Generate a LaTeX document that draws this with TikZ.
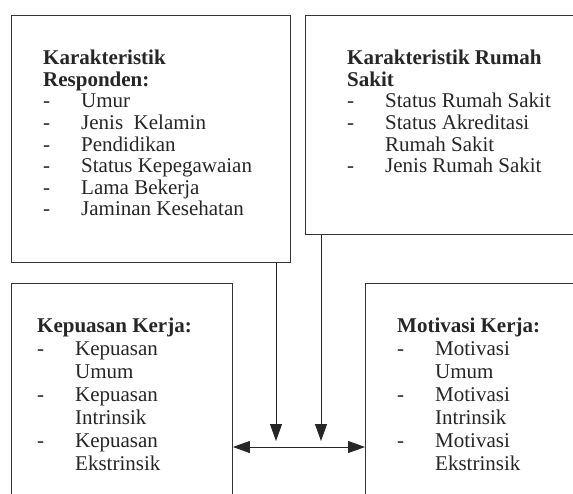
\documentclass[tikz,border=0pt]{standalone}
\usepackage{fontspec}
\setmainfont{Liberation Serif}
\usetikzlibrary{arrows.meta, positioning}

\newcommand{\itm}[1]{\makebox[38pt][l]{-}#1}
\newcommand{\cnt}[1]{\hspace*{38pt}#1}

\begin{document}
\begin{tikzpicture}[
  x=1pt, y=-1pt,
  box/.style={rectangle, draw=black!80, line width=0.9pt, inner sep=0pt,
              anchor=north west},
  txt/.style={anchor=north west, inner sep=0pt, align=left, text=black!85},
  arr/.style={-{Triangle[length=17pt, width=12pt]}, line width=0.9pt, draw=black!85},
  dbl/.style={{Triangle[length=17pt, width=12pt]}-{Triangle[length=17pt, width=12pt]},
              line width=0.9pt, draw=black!85},
]
  \clip (0,0) rectangle (573,493);
  \fill[white] (0,0) rectangle (573,493);

  \node[box, minimum width=279pt, minimum height=247pt] (resp) at (11,15) {};
  \node[box, minimum width=300pt, minimum height=219pt] (rs) at (305,15) {};
  \node[box, minimum width=221pt, minimum height=260pt] (kep) at (11,283) {};
  \node[box, minimum width=260pt, minimum height=260pt] (mot) at (365,283) {};

  \node[txt, font=\fontsize{21}{21.6}\selectfont] (resptxt) at (43,50)
    {\textbf{Karakteristik}\\
     \textbf{Responden:}\\
     \itm{Umur}\\
     \itm{Jenis\ \ Kelamin}\\
     \itm{Pendidikan}\\
     \itm{Status Kepegawaian}\\
     \itm{Lama Bekerja}\\
     \itm{Jaminan Kesehatan}};
  \node[txt, font=\fontsize{21}{21.6}\selectfont] (rstxt) at (347,50)
    {\textbf{Karakteristik Rumah}\\
     \textbf{Sakit}\\
     \itm{Status Rumah Sakit}\\
     \itm{Status Akreditasi}\\
     \cnt{Rumah Sakit}\\
     \itm{Jenis Rumah Sakit}};
  \node[txt, font=\fontsize{21}{23}\selectfont] (keptxt) at (37,318)
    {\textbf{Kepuasan Kerja:}\\
     \itm{Kepuasan}\\
     \cnt{Umum}\\
     \itm{Kepuasan}\\
     \cnt{Intrinsik}\\
     \itm{Kepuasan}\\
     \cnt{Ekstrinsik}};
  \node[txt, font=\fontsize{21}{23}\selectfont] (mottxt) at (397,318)
    {\textbf{Motivasi Kerja:}\\
     \itm{Motivasi}\\
     \cnt{Umum}\\
     \itm{Motivasi}\\
     \cnt{Intrinsik}\\
     \itm{Motivasi}\\
     \cnt{Ekstrinsik}};

  \coordinate (j1) at (276,441);
  \coordinate (j2) at (321,441);
  \coordinate (mid) at (298,447);

  \draw[arr] (j1 |- resp.south) -- (j1);
  \draw[arr] (j2 |- rs.south) -- (j2);
  \draw[dbl] (kep.east |- mid) -- (mot.west |- mid);
\end{tikzpicture}
\end{document}
